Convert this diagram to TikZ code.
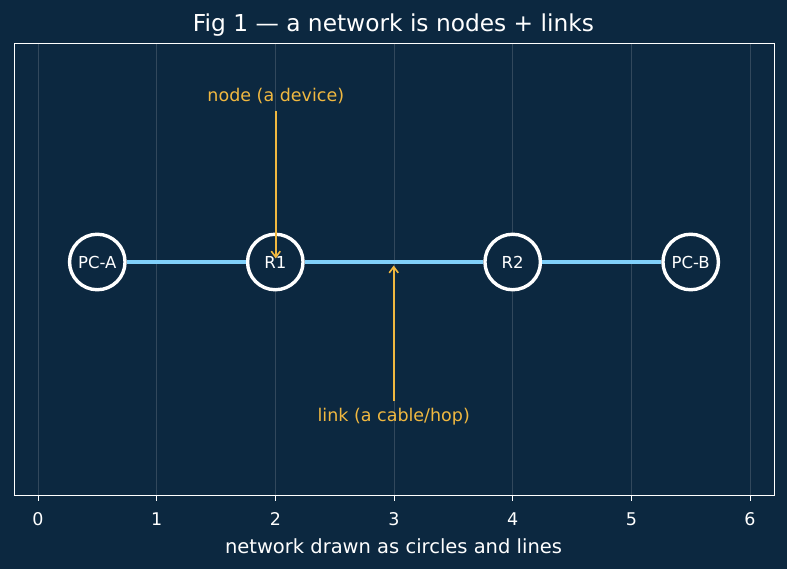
\documentclass[tikz,border=0pt]{standalone}
\usepackage{fontspec}
\setmainfont{DejaVu Sans}
\usetikzlibrary{arrows.meta}
\definecolor{bgnavy}{RGB}{12,40,64}
\definecolor{linkblue}{RGB}{128,208,250}
\definecolor{noteorange}{RGB}{240,184,64}
\definecolor{gridgrey}{RGB}{50,72,92}
\begin{document}
\begin{tikzpicture}
[x=1pt,y=-1pt,
 device/.style={circle,draw=white,line width=3.4pt,fill=bgnavy,text=white,inner sep=0pt,minimum size=55.5pt,font=\fontsize{16.5}{18}\selectfont},
 link/.style={draw=linkblue,line width=3.6pt},
 note/.style={text=noteorange,inner sep=7pt,font=\fontsize{17.5}{20}\selectfont},
 pointer/.style={draw=noteorange,line width=1.6pt,-{Straight Barb[length=6pt,width=9pt]}},
 ticklab/.style={text=white,font=\fontsize{17.5}{20}\selectfont}]
\useasboundingbox (0,0) rectangle (787,569);
\fill[bgnavy] (0,0) rectangle (787,569);
% grid and axes
\foreach \k in {0,...,6} {
  \draw[gridgrey,line width=0.8pt] (38+118.667*\k,43) -- (38+118.667*\k,495);
  \draw[white,line width=0.8pt] (38+118.667*\k,495) -- (38+118.667*\k,501);
  \node[ticklab] (tick\k) at (38+118.667*\k,519) {\k};
}
\draw[white,line width=0.8pt] (14,43) rectangle (774,495);
\node[text=white,font=\fontsize{23.3}{26}\selectfont] (title) at (393.5,25) {Fig 1 — a network is nodes + links};
\node[text=white,font=\fontsize{19.5}{22}\selectfont] (xlabel) at (393.5,546) {network drawn as circles and lines};
%
\node[device] (pca) at (97.3,262)  {PC-A};
\node[device] (r1)  at (275.3,262) {R1};
\node[device] (r2)  at (512.7,262) {R2};
\node[device] (pcb) at (690.7,262) {PC-B};
\path (pca) edge[link] (r1)
      (r1)  edge[link] (r2)
      (r2)  edge[link] (pcb);
%
\node[note] (devnote)  at (275.8,96)  {node (a device)};
\node[note] (linknote) at (393.7,417) {link (a cable/hop)};
\coordinate (r1tip)   at (275.8,258.5);
\coordinate (linktip) at (393.7,265.5);
\draw[pointer] (devnote.south) -- (r1tip);
\draw[pointer] (linknote.north) -- (linktip);
\end{tikzpicture}
\end{document}
